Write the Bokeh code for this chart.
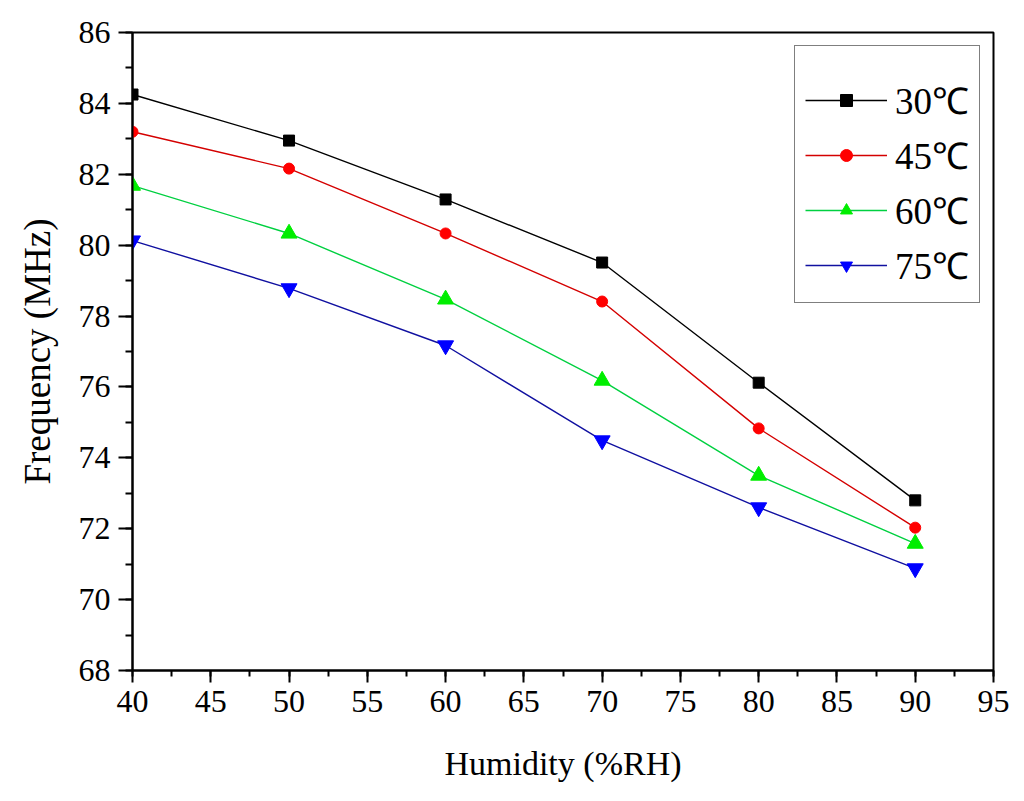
from bokeh.plotting import figure
from bokeh.models import Legend, LegendItem, SingleIntervalTicker, Range1d
from bokeh.embed import file_html
from bokeh.resources import INLINE

umidade = [40, 50, 60, 70, 80, 90]
freq_30 = [84.25, 82.95, 81.29, 79.51, 76.12, 72.80]
freq_45 = [83.20, 82.16, 80.33, 78.41, 74.83, 72.03]
freq_60 = [81.68, 80.33, 78.47, 76.18, 73.50, 71.58]
freq_75 = [80.13, 78.78, 77.17, 74.49, 72.60, 70.88]

rotulos = ["30℃", "45℃", "60℃", "75℃"]
series = [freq_30, freq_45, freq_60, freq_75]
cores_linha = ["#000000", "#d40000", "#00d040", "#1010a0"]
cores_marcador = ["#000000", "#ff0000", "#00ee00", "#0000ff"]
marcadores = ["square", "circle", "triangle", "inverted_triangle"]
tamanhos = [11, 11, 16, 16]

fonte = "Liberation Serif"

grafico = figure(width=1016, height=793, output_backend="svg", toolbar_location=None,
                 x_range=Range1d(40, 95), y_range=Range1d(68, 86))
grafico.min_border_left = 132
grafico.min_border_right = 23
grafico.min_border_top = 32
grafico.min_border_bottom = 123
grafico.outline_line_color = "black"
grafico.outline_line_width = 2
grafico.xgrid.visible = False
grafico.ygrid.visible = False

itens = []
for rotulo, valores, cl, cm, mk, tm in zip(rotulos, series, cores_linha, cores_marcador, marcadores, tamanhos):
    linha = grafico.line(x=umidade, y=valores, color=cl, line_width=1.4)
    pontos = grafico.scatter(x=umidade, y=valores, marker=mk, size=tm, color=cm)
    itens.append(LegendItem(label=rotulo, renderers=[linha, pontos]))

legenda = Legend(items=itens, location="top_right")
legenda.title = " "
legenda.title_text_font_size = "10px"
legenda.title_standoff = 5
legenda.label_text_font = fonte
legenda.label_text_font_size = "37px"
legenda.label_text_color = "black"
legenda.glyph_width = 82
legenda.glyph_height = 30
legenda.label_height = 55
legenda.spacing = 0
legenda.padding = 10
legenda.margin = 13
legenda.label_standoff = 8
legenda.border_line_color = "black"
legenda.border_line_width = 1.5
grafico.add_layout(legenda)

grafico.xaxis.ticker = SingleIntervalTicker(interval=5, num_minor_ticks=2)
grafico.yaxis.ticker = SingleIntervalTicker(interval=2, num_minor_ticks=2)

for eixo in [grafico.xaxis, grafico.yaxis]:
    eixo.axis_line_width = 2
    eixo.major_tick_line_width = 2
    eixo.minor_tick_line_width = 2
    eixo.major_tick_in = 0
    eixo.minor_tick_in = 0
    eixo.major_label_text_font = fonte
    eixo.major_label_text_font_size = "32px"
    eixo.major_label_text_color = "black"
    eixo.axis_label_text_font = fonte
    eixo.axis_label_text_font_style = "normal"
    eixo.axis_label_text_color = "black"

grafico.xaxis.major_tick_out = 12
grafico.xaxis.minor_tick_out = 6
grafico.yaxis.major_tick_out = 14
grafico.yaxis.minor_tick_out = 7
grafico.xaxis.major_label_standoff = 8
grafico.yaxis.major_label_standoff = 8

grafico.xaxis.axis_label = "Humidity (%RH)"
grafico.xaxis.axis_label_text_font_size = "34px"
grafico.xaxis.axis_label_standoff = 30
grafico.yaxis.axis_label = "Frequency (MHz)"
grafico.yaxis.axis_label_text_font_size = "37px"
grafico.yaxis.axis_label_standoff = 18

open("out.html", "w").write(file_html(grafico, INLINE))
